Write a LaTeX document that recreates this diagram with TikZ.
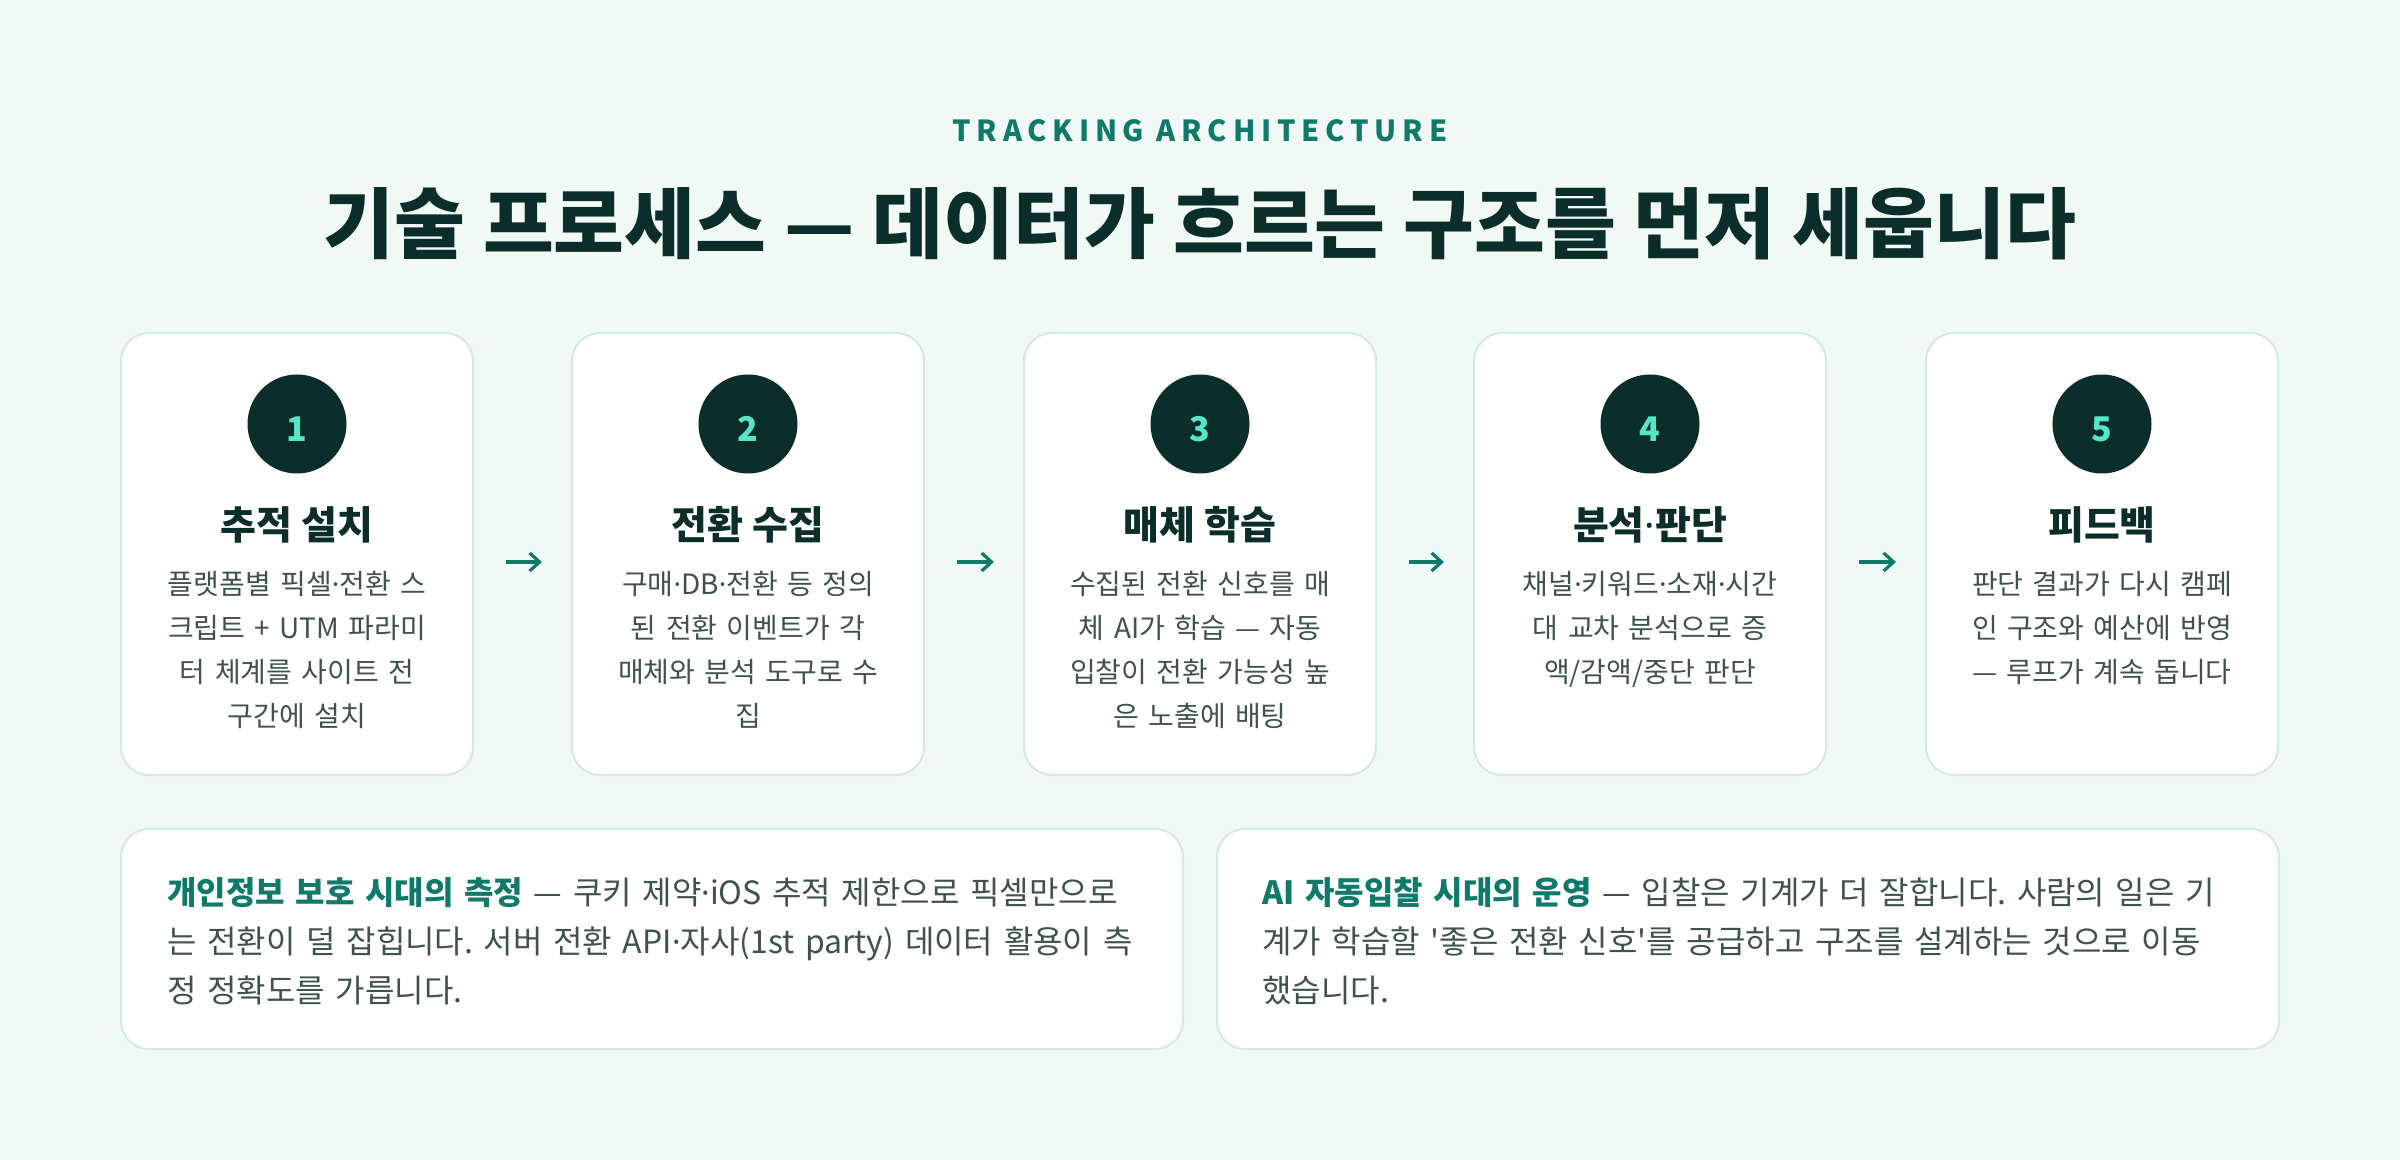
\documentclass[tikz,border=0pt]{standalone}
\usepackage{fontspec}
\setmainfont{Noto Sans CJK KR}
\newfontfamily\latinfont{Noto Sans}
\usetikzlibrary{arrows.meta}
\definecolor{bgc}{HTML}{F0F9F6}
\definecolor{ink}{HTML}{0B2E2A}
\definecolor{bodyc}{HTML}{3F534E}
\definecolor{teal}{HTML}{0F7A6A}
\definecolor{mint}{HTML}{55E6C8}
\definecolor{edge}{HTML}{D3EAE4}
\newcommand{\md}{{\latinfont ·}}
\newcommand{\sq}{{\addfontfeature{Ligatures=TeXOff}'}}
\tikzset{
  card/.style={draw=edge, line width=1pt, fill=white, rounded corners=14pt,
    minimum width=176pt, minimum height=221pt, inner sep=0pt},
  note/.style={draw=edge, line width=1pt, fill=white, rounded corners=14pt,
    minimum width=531pt, minimum height=110pt, inner sep=0pt},
  badge/.style={circle, fill=ink, minimum size=49.5pt, inner sep=0pt},
  num/.style={text=mint, font=\fontsize{17pt}{20pt}\selectfont\bfseries, inner sep=0pt},
  ctitle/.style={text=ink, font=\fontsize{19.5pt}{22pt}\selectfont\bfseries, anchor=base, inner sep=0pt},
  cbody/.style={text=bodyc, font=\fontsize{14pt}{22pt}\selectfont, anchor=base, inner sep=0pt,
    text width=170pt, align=center},
  nbody/.style={text=bodyc, font=\fontsize{16pt}{24.5pt}\selectfont, anchor=base west, inner sep=0pt,
    text width=520pt, align=left},
  flow/.style={draw=teal, line width=1.6pt, -{Straight Barb[length=5pt,width=9pt,line width=1.6pt]}},
}
\newcommand{\hl}[1]{{\bfseries\color{teal}#1}}
\frenchspacing
\begin{document}
\begin{tikzpicture}[x=0.5pt,y=-0.5pt]
\fill[bgc] (0,0) rectangle (2400,1160);
\useasboundingbox (0,0) rectangle (2400,1160);

\node[text=teal, anchor=base, inner sep=0pt,
  font=\fontsize{14.5pt}{16pt}\selectfont\bfseries\addfontfeature{LetterSpace=20}] (kicker) at (1200,142) {TRACKING ARCHITECTURE};
\node[text=ink, anchor=base, inner sep=0pt, font=\fontsize{38.5pt}{42pt}\selectfont\bfseries] (title) at (1200,253)
  {기술 프로세스 — 데이터가 흐르는 구조를 먼저 세웁니다};

% cards
\node[card] (c1) at (297,554) {};
\node[card] (c2) at (748,554) {};
\node[card] (c3) at (1200,554) {};
\node[card] (c4) at (1650,554) {};
\node[card] (c5) at (2102,554) {};

\foreach \i/\x in {1/297,2/748,3/1200,4/1650,5/2102}{
  \node[badge] (b\i) at (\x,424) {};
  \node[num] (n\i) at (\x,429) {\i};
}

\node[ctitle] (t1) at (297,540) {추적 설치};
\node[ctitle] (t2) at (748,540) {전환 수집};
\node[ctitle] (t3) at (1200,540) {매체 학습};
\node[ctitle] (t4) at (1650,540) {분석\md 판단};
\node[ctitle] (t5) at (2102,540) {피드백};

\node[cbody] (d1) at (297,595) {플랫폼별 픽셀\md 전환 스\\크립트 + UTM 파라미\\터 체계를 사이트 전\\구간에 설치};
\node[cbody] (d2) at (748,595) {구매\md DB\md 전환 등 정의\\된 전환 이벤트가 각\\매체와 분석 도구로 수\\집};
\node[cbody] (d3) at (1200,595) {수집된 전환 신호를 매\\체 AI가 학습 — 자동\\입찰이 전환 가능성 높\\은 노출에 배팅};
\node[cbody] (d4) at (1650,595) {채널\md 키워드\md 소재\md 시간\\대 교차 분석으로 증\\액/감액/중단 판단};
\node[cbody] (d5) at (2102,595) {판단 결과가 다시 캠페\\인 구조와 예산에 반영\\— 루프가 계속 돕니다};

% arrows
\foreach \a/\b in {c1/c2,c2/c3,c3/c4,c4/c5}{
  \draw[flow, shorten <=16pt, shorten >=14.5pt] ([yshift=-4pt]\a.east) -- ([yshift=-4pt]\b.west);
}

% notes
\node[note] (p1) at (652,939) {};
\node[note] (p2) at (1748,939) {};
\node[nbody] (q1) at (167,904) {\hl{개인정보 보호 시대의 측정} — 쿠키 제약\md iOS 추적 제한으로 픽셀만으로\\는 전환이 덜 잡힙니다. 서버 전환 API\md 자사(1st party) 데이터 활용이 측\\정 정확도를 가릅니다.};
\node[nbody] (q2) at (1262,904) {\hl{AI 자동입찰 시대의 운영} — 입찰은 기계가 더 잘합니다. 사람의 일은 기\\계가 학습할 \sq 좋은 전환 신호\sq 를 공급하고 구조를 설계하는 것으로 이동\\했습니다.};
\end{tikzpicture}
\end{document}
